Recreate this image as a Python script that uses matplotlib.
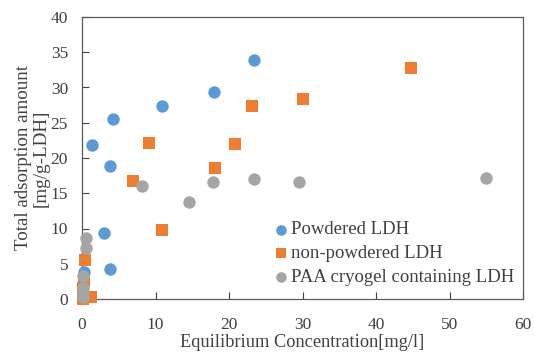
import matplotlib
matplotlib.use("Agg")
import matplotlib.pyplot as plt

plt.rcParams['font.family'] = ['Liberation Serif', 'DejaVu Serif']

# Powdered LDH
pow_x = [0.1, 0.3, 1.4, 3.0, 3.8, 3.8, 4.2, 10.9, 18.0, 23.4]
pow_y = [0.3, 3.9, 21.9, 9.3, 4.2, 18.9, 25.5, 27.4, 29.3, 33.9]
# non-powdered LDH
np_x = [0.1, 0.2, 1.2, 0.3, 0.4, 7.0, 9.1, 10.9, 18.1, 20.8, 23.1, 30.0, 44.7]
np_y = [0.0, 1.5, 0.3, 2.5, 5.5, 16.8, 22.1, 9.8, 18.6, 22.0, 27.4, 28.3, 32.8]
# PAA cryogel containing LDH
paa_x = [0.1, 0.2, 0.2, 0.2, 0.5, 0.5, 8.2, 14.5, 17.8, 23.4, 29.5, 55.0]
paa_y = [0.3, 1.0, 1.6, 3.3, 7.2, 8.7, 16.0, 13.7, 16.6, 17.0, 16.6, 17.1]

fig = plt.figure(figsize=(5.34, 3.54), dpi=100)
ax = fig.add_axes([82/534, 1 - 299/354, 441/534, 282/354])

ms = 80
ax.scatter(pow_x, pow_y, s=ms, marker='o', color='#5B9BD5', label='Powdered LDH', zorder=3, linewidths=0, clip_on=False)
ax.scatter(np_x, np_y, s=ms, marker='s', color='#ED7D31', label='non-powdered LDH', zorder=3, linewidths=0, clip_on=False)
ax.scatter(paa_x, paa_y, s=ms, marker='o', color='#A5A5A5', label='PAA cryogel containing LDH', zorder=3, linewidths=0, clip_on=False)

ax.set_xlim(0, 60)
ax.set_ylim(0, 40)
ax.set_xticks(range(0, 61, 10))
ax.set_yticks(range(0, 41, 5))
ax.tick_params(direction='in', length=5, labelsize=12.5, colors='#404040', width=0.8)
ax.tick_params(axis='x', pad=13)
ax.tick_params(axis='y', pad=10)
for sp in ax.spines.values():
    sp.set_color('#595959')
    sp.set_linewidth(0.9)

ax.set_xlabel('Equilibrium Concentration[mg/l]', fontsize=13.2, color='#404040', labelpad=1)
ax.set_ylabel('Total adsorption amount\n[mg/g-LDH]', fontsize=13.7, color='#404040', labelpad=1, linespacing=1.05)

leg = ax.legend(loc='lower left', bbox_to_anchor=(0.38, 0.0), frameon=False, fontsize=13.5,
                handletextpad=-0.5, labelspacing=0.35, markerscale=0.85, borderaxespad=0.3)
for t in leg.get_texts():
    t.set_color('#404040')

fig.savefig('out.png', dpi=100)
